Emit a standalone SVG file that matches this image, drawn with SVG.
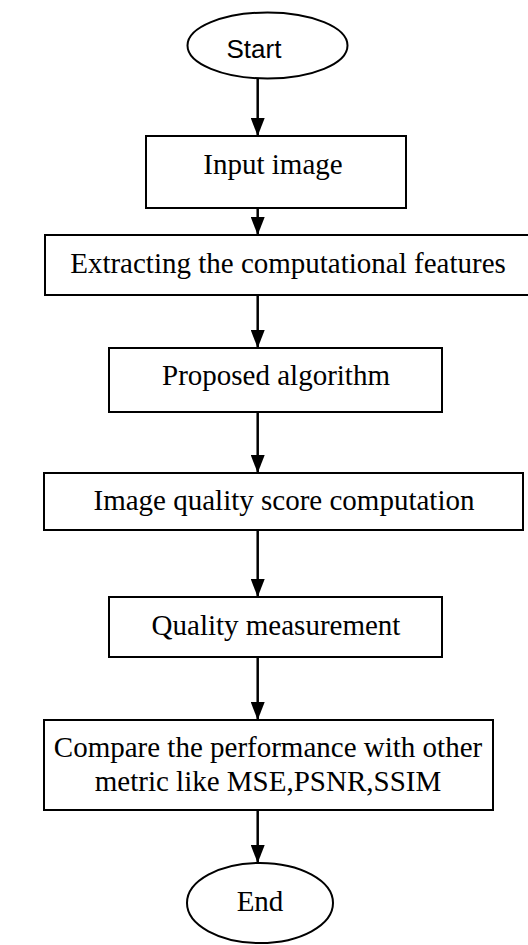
<svg xmlns="http://www.w3.org/2000/svg" width="528" height="945" viewBox="0 0 528 945">
<defs>
<style>
.box{fill:#fff;stroke:#000;stroke-width:2}
.t{font-family:"Liberation Serif","Times New Roman",serif;font-size:29px;fill:#000;text-anchor:middle}
.s{font-family:"Liberation Sans",Arial,sans-serif;font-size:26px;fill:#000;text-anchor:middle}
.c{stroke:#000;stroke-width:2.5;fill:none;marker-end:url(#ah)}
</style>
<marker id="ah" markerUnits="userSpaceOnUse" markerWidth="18" markerHeight="14" refX="18" refY="7" orient="auto" viewBox="0 0 18 14">
<path d="M0,0 L18,7 L0,14 Z" fill="#000"/>
</marker>
</defs>
<rect width="528" height="945" fill="#fff"/>
<g id="connectors">
<line class="c" x1="257.7" y1="78.5" x2="257.7" y2="136"/>
<line class="c" x1="257.7" y1="208" x2="257.7" y2="235"/>
<line class="c" x1="257.7" y1="295" x2="257.7" y2="348"/>
<line class="c" x1="257.7" y1="412" x2="257.7" y2="473"/>
<line class="c" x1="257.7" y1="530" x2="257.7" y2="597"/>
<line class="c" x1="257.7" y1="657" x2="257.7" y2="720"/>
<line class="c" x1="257.7" y1="810" x2="257.7" y2="863"/>
</g>
<g id="start">
<ellipse class="box" cx="267.5" cy="45.5" rx="80" ry="33"/>
<text class="s" x="254" y="58">Start</text>
</g>
<g id="input">
<rect class="box" x="146" y="136" width="260" height="72"/>
<text class="t" x="273" y="174">Input image</text>
</g>
<g id="extract">
<rect class="box" x="45" y="235" width="490" height="60"/>
<text class="t" x="288" y="273">Extracting the computational features</text>
</g>
<g id="proposed">
<rect class="box" x="109" y="348" width="333" height="64"/>
<text class="t" x="276" y="385">Proposed algorithm</text>
</g>
<g id="score">
<rect class="box" x="44" y="473" width="479" height="57"/>
<text class="t" x="284" y="510">Image quality score computation</text>
</g>
<g id="measure">
<rect class="box" x="109" y="597" width="333" height="60"/>
<text class="t" x="276" y="635">Quality measurement</text>
</g>
<g id="compare">
<rect class="box" x="44" y="720" width="449" height="90"/>
<text class="t" x="268" y="757">Compare the performance with other</text>
<text class="t" x="268" y="791">metric like MSE,PSNR,SSIM</text>
</g>
<g id="end">
<ellipse class="box" cx="260" cy="903" rx="73" ry="40"/>
<text class="t" x="260" y="911">End</text>
</g>
</svg>
